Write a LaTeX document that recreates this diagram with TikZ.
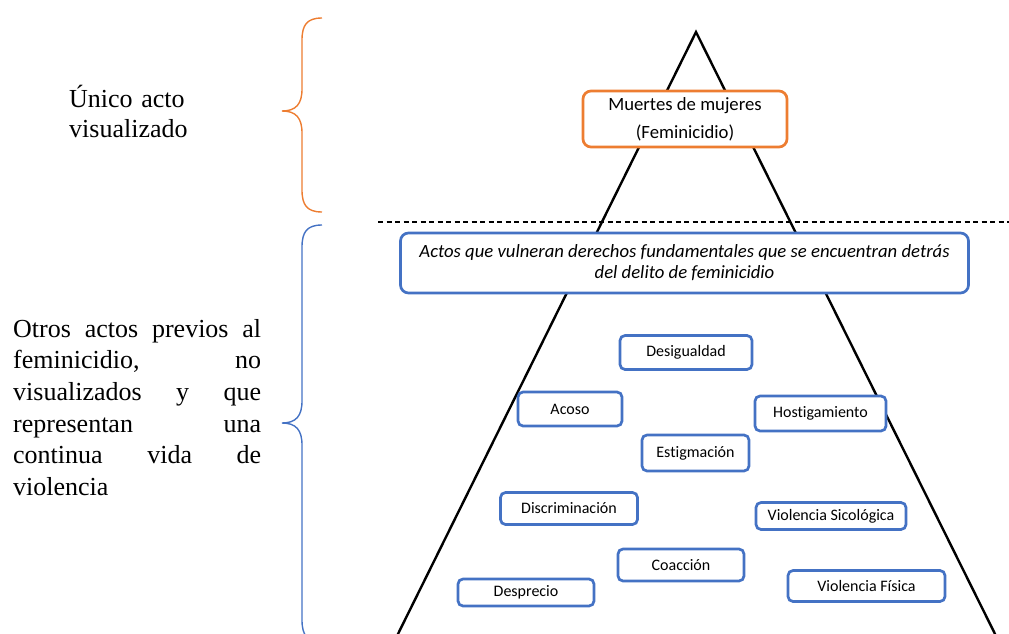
\documentclass[tikz,border=0pt]{standalone}
\usepackage{fontspec}
\setmainfont{Liberation Serif}
\newfontfamily\calibri[Ligatures=NoCommon]{Carlito}
\definecolor{orng}{HTML}{ED7D31}
\definecolor{blu}{HTML}{4472C4}
\tikzset{
  smallbox/.style={draw=blu, line width=2.7pt, rounded corners=5pt, fill=white, inner sep=0pt,
    font=\calibri\fontsize{16}{18}\selectfont},
  tri/.style={line width=2.4pt, black},
  brace/.style={line width=1.4pt},
  serifblock/.style={inner sep=0pt, align=left}
}
\begin{document}
\begin{tikzpicture}[x=1pt,y=-1pt]
\useasboundingbox (0,0) rectangle (1009,634);
\clip (0,0) rectangle (1009,634);
% triangle
\coordinate (apex) at (696,32);
\coordinate (bl) at (395,640);
\coordinate (br) at (998,640);
\draw[tri] (bl) -- (apex) -- (br);
% dashed separator
\coordinate (d1) at (378,222);
\coordinate (d2) at (1009,222);
\draw[line width=1.1pt, dash pattern=on 5pt off 3.5pt] (d1) -- (d2);
% top box
\node[draw=orng, line width=2.7pt, rounded corners=8pt, fill=white, minimum width=204pt, minimum height=56pt,
  inner sep=0pt, align=center, font=\calibri\fontsize{18.7}{28}\selectfont] (top) at (685,119)
  {Muertes de mujeres\\(Feminicidio)};
% big blue box
\node[draw=blu, line width=2.7pt, rounded corners=8pt, fill=white, minimum width=568pt, minimum height=60pt,
  inner sep=0pt, align=center, font=\calibri\itshape\fontsize{18.7}{21}\selectfont] (actos) at (684.5,263)
  {Actos que vulneran derechos fundamentales que se encuentran detrás\\del delito de feminicidio};
% small boxes
\node[smallbox, minimum width=132pt, minimum height=34pt] (desig) at (686,352.5) {Desigualdad};
\node[smallbox, minimum width=104pt, minimum height=34pt] (acoso) at (570,409) {Acoso};
\node[smallbox, minimum width=131pt, minimum height=35pt] (host) at (820.5,413.5) {Hostigamiento};
\node[smallbox, minimum width=107pt, minimum height=36pt] (estig) at (695.5,453) {Estigmación};
\node[smallbox, minimum width=137pt, minimum height=32pt] (discr) at (569,508.5) {Discriminación};
\node[smallbox, minimum width=150pt, minimum height=27pt] (vsic) at (831,516) {Violencia Sicológica};
\node[smallbox, minimum width=126pt, minimum height=32pt] (coac) at (681,565) {Coacción};
\node[smallbox, minimum width=136pt, minimum height=27pt] (despr) at (526,592.5) {Desprecio};
\node[smallbox, minimum width=157pt, minimum height=31pt] (vfis) at (866.5,586) {Violencia Física};
% braces
\draw[brace, orng] (322,18) .. controls (307,18) and (302,25) .. (302,40) -- (302,89)
  .. controls (302,104) and (296,111) .. (282,111)
  .. controls (296,111) and (302,118) .. (302,133) -- (302,190)
  .. controls (302,205) and (307,212) .. (322,212);
\draw[brace, blu] (322,225) .. controls (307,225) and (302,232) .. (302,247) -- (302,401)
  .. controls (302,416) and (296,423) .. (282,423)
  .. controls (296,423) and (302,430) .. (302,445) -- (302,620)
  .. controls (302,635) and (307,642) .. (322,642);
% left texts
\node[serifblock, anchor=north west, text width=140pt, font=\fontsize{26}{30}\selectfont] (unico) at (69,85)
  {Único acto\\visualizado};
\node[serifblock, anchor=north west, text width=248pt, font=\fontsize{26}{31.6}\selectfont] (otros) at (13,319)
  {Otros\hfill actos\hfill previos\hfill al\\
   feminicidio,\hfill no\\
   visualizados\hfill y\hfill que\\
   representan\hfill una\\
   continua\hfill vida\hfill de\\
   violencia};
\end{tikzpicture}
\end{document}
